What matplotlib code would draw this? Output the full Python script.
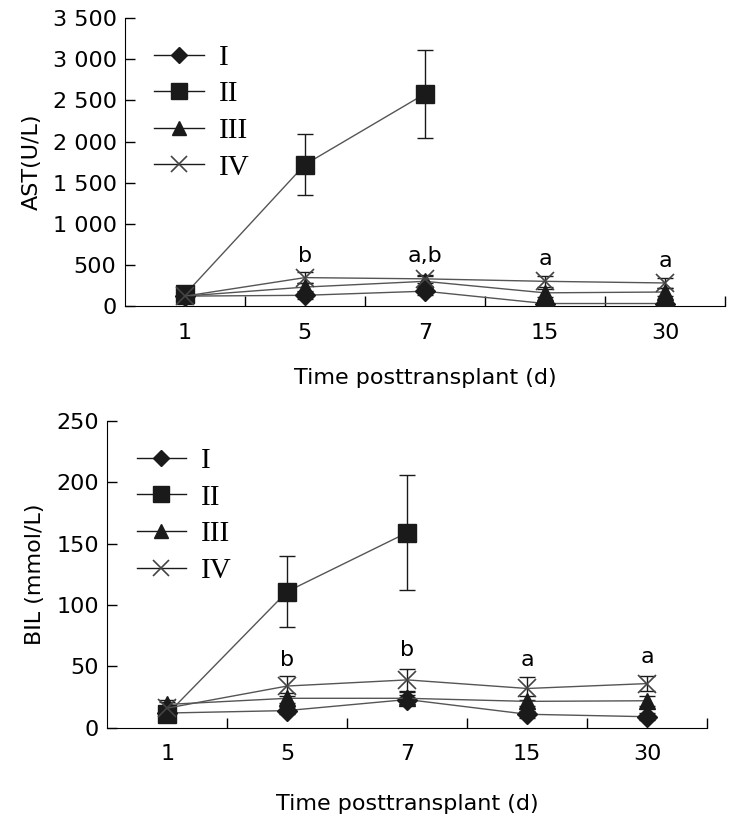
import matplotlib.pyplot as plt
from matplotlib.lines import Line2D

days = ["1", "5", "7", "15", "30"]
groups = ["I", "II", "III", "IV"]

# AST (U/L)
ast_I = [120, 130, 180, 30, 30]
ast_I_err = [20, 40, 50, 30, 30]
ast_II = [140, 1720, 2580]
ast_II_err = [30, 375, 535]
ast_III = [120, 230, 300, 160, 170]
ast_III_err = [20, 50, 60, 50, 50]
ast_IV = [120, 345, 330, 300, 280]
ast_IV_err = [20, 70, 50, 70, 60]
ast_marks = ["b", "a,b", "a", "a"]
ast_mark_y = [535, 535, 498, 478]

# BIL (mmol/L)
bil_I = [12, 14, 23, 11, 9]
bil_I_err = [3, 3, 4, 3, 3]
bil_II = [11, 111, 159]
bil_II_err = [3, 29, 47]
bil_III = [19, 24, 24, 21.5, 22]
bil_III_err = [4, 4, 5, 4, 4]
bil_IV = [16, 34, 39, 32, 36]
bil_IV_err = [5, 8, 9, 9, 6]
bil_marks = ["b", "b", "a", "a"]
bil_mark_y = [50, 58.6, 50.5, 52.7]

styles = {
    "I": dict(marker="D", ms=10),
    "II": dict(marker="s", ms=13),
    "III": dict(marker="^", ms=12),
    "IV": dict(marker="x", ms=13, mec="#444444", mew=1.2),
}

def draw_panel(ax, series, errs, marks, mark_y, ylim, yticks, yticklabels, ylabel, xpad):
    x = [i + 0.5 for i in range(len(days))]
    for g in groups:
        vals = series[g]
        st = dict(styles[g])
        mec = st.pop("mec", "#1a1a1a")
        mew = st.pop("mew", 1)
        ax.errorbar(x[:len(vals)], vals, yerr=errs[g], fmt="none", ecolor="#1a1a1a",
                    elinewidth=1, capsize=6, capthick=1, zorder=2)
        ax.plot(x[:len(vals)], vals, color="#555555", lw=1, mfc="#1a1a1a", mec=mec,
                mew=mew, zorder=3, **st)
    for i, (m, y) in enumerate(zip(marks, mark_y)):
        ax.text(x[i + 1], y, m, ha="center", va="baseline", fontsize=16)

    ax.set_xlim(0, 5)
    ax.set_ylim(*ylim)
    ax.set_xticks(x)
    ax.set_xticklabels(days, fontsize=16)
    ax.set_xticks([1, 2, 3, 4, 5], minor=True)
    ax.tick_params(axis="x", which="major", length=0, pad=12)
    ax.tick_params(axis="x", which="minor", length=7, direction="in", width=1)
    ax.set_yticks(yticks)
    ax.set_yticklabels(yticklabels, fontsize=16)
    ax.tick_params(axis="y", length=7, direction="in", width=1, pad=6)
    ax.spines["top"].set_visible(False)
    ax.spines["right"].set_visible(False)
    ax.set_ylabel(ylabel, fontsize=16, labelpad=8)
    ax.set_xlabel("Time posttransplant (d)", fontsize=16, labelpad=xpad)

    handles = []
    for g in groups:
        st = dict(styles[g])
        mec = st.pop("mec", "#1a1a1a")
        mew = st.pop("mew", 1)
        st["ms"] = st["ms"] * 0.85
        handles.append(Line2D([], [], color="#1a1a1a", lw=1, mfc="#1a1a1a",
                              mec=mec, mew=mew, **st))
    ax.legend(handles, groups, loc="upper left", frameon=False,
              prop={"family": "Liberation Serif", "size": 21},
              handlelength=1.7, labelspacing=0.35, borderaxespad=0.3,
              bbox_to_anchor=(0.015, 0.98), handletextpad=0.5)


fig = plt.figure(figsize=(7.39, 8.27), dpi=100)
ax1 = fig.add_axes([0.169, 0.630, 0.812, 0.348])
ax2 = fig.add_axes([0.145, 0.120, 0.812, 0.371])

draw_panel(ax1,
           {"I": ast_I, "II": ast_II, "III": ast_III, "IV": ast_IV},
           {"I": ast_I_err, "II": ast_II_err, "III": ast_III_err, "IV": ast_IV_err},
           ast_marks, ast_mark_y, (0, 3500),
           list(range(0, 3501, 500)),
           ["0", "500", "1 000", "1 500", "2 000", "2 500", "3 000", "3 500"],
           "AST(U/L)", 18)
draw_panel(ax2,
           {"I": bil_I, "II": bil_II, "III": bil_III, "IV": bil_IV},
           {"I": bil_I_err, "II": bil_II_err, "III": bil_III_err, "IV": bil_IV_err},
           bil_marks, bil_mark_y, (0, 250),
           list(range(0, 251, 50)),
           [str(v) for v in range(0, 251, 50)],
           "BIL (mmol/L)", 21)

fig.savefig("out.png", dpi=100)
